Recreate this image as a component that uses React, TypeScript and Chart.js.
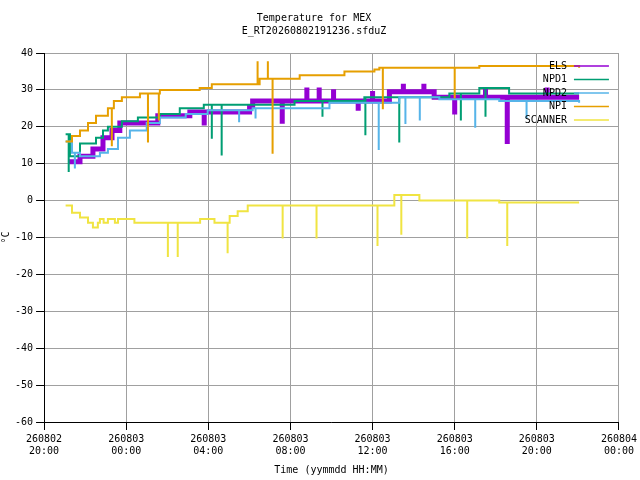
import React, { useEffect, useRef } from "react";
import { Chart, registerables } from "chart.js";
Chart.register(...registerables);

// x in hours since 260802 20:00
const xTickLabels = [["260802", "20:00"], ["260803", "00:00"], ["260803", "04:00"], ["260803", "08:00"], ["260803", "12:00"], ["260803", "16:00"], ["260803", "20:00"], ["260804", "00:00"]];
const seriesNames = ["ELS", "NPD1", "NPD2", "NPI", "SCANNER"];
const seriesColors = ["#9400d3", "#009e73", "#56b4e9", "#e69f00", "#f0e442"];
const seriesWidths = [5, 2, 2, 2, 2];

// step series: [hour, value]
const elsSteps = [[1.17, 10.5], [1.75, 12], [2.38, 14], [2.87, 17], [3.31, 19], [3.69, 21], [5.54, 23], [7.1, 24], [10.01, 25.5], [10.16, 27], [16.82, 29.5], [19.0, 28], [26.06, 28]];
const elsSpikes = [[7.8, 21], [11.6, 21.5], [12.8, 30], [13.4, 30], [14.1, 29.5], [15.3, 25], [16.0, 29], [17.5, 31], [18.5, 31], [20.0, 24], [22.56, 16], [21.5, 30], [24.5, 30]];
const npd1Steps = [[1.05, 18], [1.26, 12], [1.75, 15.5], [2.53, 17], [2.87, 19], [3.11, 20], [3.79, 21.5], [4.57, 22.5], [5.64, 23.5], [6.61, 25], [7.78, 26], [12.2, 27], [15.6, 28], [19.74, 29], [21.2, 30.5], [22.65, 29], [26.06, 29]];
const npd1Spikes = [[1.2, 8], [8.17, 17], [8.65, 12.5], [13.56, 23], [15.65, 18], [17.3, 16], [20.3, 22], [21.5, 23]];
const npd2Steps = [[1.05, 16], [1.36, 13], [1.75, 12], [2.72, 13], [3.11, 14], [3.6, 17], [4.18, 19], [5.0, 21], [5.64, 22.5], [6.9, 23.5], [7.97, 24.5], [10.16, 25], [13.9, 26.5], [15.36, 26.5], [17.3, 28], [19.25, 27.5], [22.17, 27], [26.06, 26.5]];
const npd2Spikes = [[1.5, 9], [9.5, 21.5], [10.3, 22.5], [16.3, 14], [17.6, 21], [18.3, 22], [21.0, 20], [23.5, 22.5]];
const npiSteps = [[1.05, 16], [1.36, 17.5], [1.75, 19], [2.14, 21], [2.53, 23], [3.11, 25], [3.4, 27], [3.79, 28], [4.67, 29], [5.64, 30], [7.58, 30.5], [8.17, 31.5], [10.5, 33], [12.45, 34], [14.15, 34], [14.63, 35], [16.09, 35.5], [16.33, 36], [18.28, 36], [21.2, 36.5], [26.06, 36]];
const npiSpikes = [[3.3, 15], [5.06, 16], [5.59, 22], [11.13, 13], [10.4, 37.5], [10.9, 37.5], [16.5, 25], [20.0, 28], [20.3, 36]];
const scannerSteps = [[1.05, -1.3], [1.36, -3.3], [1.75, -4.6], [2.14, -6], [2.38, -7.3], [2.62, -6], [2.72, -5], [2.9, -6], [3.11, -5], [3.45, -6], [3.6, -5], [4.4, -6], [7.6, -5], [8.3, -6], [9.04, -4.2], [9.43, -2.9], [9.92, -1.3], [17.06, 1.5], [18.28, 0], [22.17, -0.5], [26.06, -0.5]];
const scannerSpikes = [[6.03, -15], [6.51, -15], [8.94, -14], [11.62, -10], [13.27, -10], [16.24, -12], [17.4, -9], [20.61, -10], [22.56, -12]];

function buildSeries(steps: number[][], spikes: number[][]) {
  const valAt = (h: number) => {
    let v = steps[0][1];
    for (const s of steps) if (s[0] <= h) v = s[1];
    return v;
  };
  const pts: { x: number; y: number }[] = [];
  const events: { x: number; kind: number; y: number }[] = [];
  steps.forEach((s) => events.push({ x: s[0], kind: 0, y: s[1] }));
  spikes.forEach((s) => events.push({ x: s[0], kind: 1, y: s[1] }));
  events.sort((a, b) => a.x - b.x);
  for (const e of events) {
    if (e.kind === 0) pts.push({ x: e.x, y: e.y });
    else {
      const v = valAt(e.x);
      pts.push({ x: e.x, y: e.y });
      pts.push({ x: e.x + 0.001, y: v });
    }
  }
  return pts;
}

const allSteps = [elsSteps, npd1Steps, npd2Steps, npiSteps, scannerSteps];
const allSpikes = [elsSpikes, npd1Spikes, npd2Spikes, npiSpikes, scannerSpikes];

const FONT = "'DejaVu Sans Mono', monospace";

const legendPlugin = {
  id: "insideLegend",
  afterDatasetsDraw(chart: any) {
    const { ctx, chartArea } = chart;
    ctx.save();
    ctx.font = `10px ${FONT}`;
    ctx.textAlign = "right";
    ctx.textBaseline = "middle";
    seriesNames.forEach((n, i) => {
      const y = chartArea.top + 13 + i * 13.5;
      const xr = chartArea.right - 10;
      ctx.fillStyle = "#000";
      ctx.fillText(n, xr - 42, y);
      ctx.strokeStyle = seriesColors[i];
      ctx.lineWidth = 1.5;
      ctx.beginPath();
      ctx.moveTo(xr - 35, y);
      ctx.lineTo(xr, y);
      ctx.stroke();
    });
    ctx.restore();
  },
};

export default function App() {
  const ref = useRef<HTMLCanvasElement>(null);
  useEffect(() => {
    const chart = new Chart(ref.current!, {
      type: "line",
      data: {
        datasets: seriesNames.map((n, i) => ({
          label: n,
          data: buildSeries(allSteps[i], allSpikes[i]),
          borderColor: seriesColors[i],
          backgroundColor: seriesColors[i],
          borderWidth: seriesWidths[i],
          pointRadius: 0,
          stepped: "before" as const,
          order: 5 - i,
        })),
      },
      plugins: [legendPlugin],
      options: {
        animation: false,
        responsive: false,
        layout: { padding: { left: 0, right: 12, top: 0, bottom: 0 } },
        plugins: {
          legend: { display: false },
          tooltip: { enabled: false },
          title: {
            display: true,
            text: ["Temperature for MEX", "E_RT20260802191236.sfduZ"],
            color: "#000",
            font: { family: FONT, size: 10, weight: "normal" as const, lineHeight: 1.3 },
            padding: { top: 12, bottom: 15 },
          },
        },
        scales: {
          x: {
            type: "linear",
            min: 0,
            max: 28,
            border: { color: "#000" },
            grid: { color: "#a0a0a0", tickColor: "#000", lineWidth: 1, borderDash: [3, 3] } as any,
            ticks: {
              stepSize: 4,
              color: "#000",
              maxRotation: 0,
              font: { family: FONT, size: 10 },
              callback: (v: any) => xTickLabels[Math.round(Number(v) / 4)],
            },
            title: { display: true, text: "Time (yymmdd HH:MM)", color: "#000", font: { family: FONT, size: 10 } },
          },
          y: {
            min: -60,
            max: 40,
            border: { color: "#000" },
            grid: { color: "#a0a0a0", tickColor: "#000", borderDash: [3, 3] } as any,
            ticks: { stepSize: 10, color: "#000", font: { family: FONT, size: 10 } },
            title: { display: true, text: "°C", color: "#000", font: { family: FONT, size: 10 }, padding: 0 },
          },
        },
      },
    });
    return () => chart.destroy();
  }, []);
  return (
    <div style={{ position: "fixed", left: 0, top: 0, width: 640, height: 480, background: "#fff" }}>
      <canvas ref={ref} width={640} height={480} />
    </div>
  );
}
